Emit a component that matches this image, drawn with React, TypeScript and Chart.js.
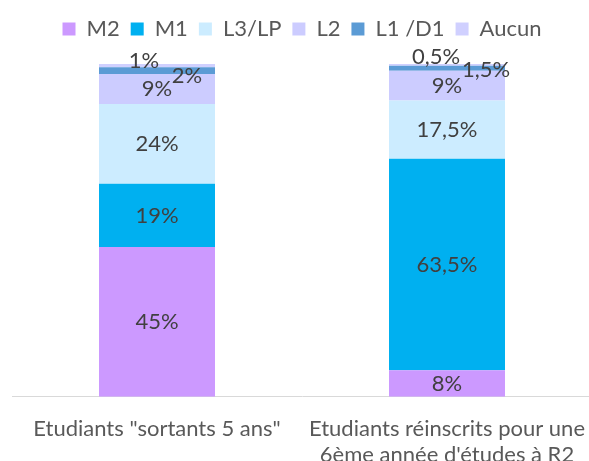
import React, { useEffect, useRef } from "react";
import { Chart, registerables } from "chart.js";

Chart.register(...registerables);

const categories: string[][] = [
  ['Etudiants "sortants 5 ans"'],
  ["Etudiants réinscrits pour une", "6ème année d'études à R2"],
];
const seriesNames = ["M2", "M1", "L3/LP", "L2", "L1 /D1", "Aucun"];
const m2 = [45, 8];
const m1 = [19, 63.5];
const l3lp = [24, 17.5];
const l2 = [9, 9];
const l1d1 = [2, 1.5];
const aucun = [1, 0.5];

const seriesValues = [m2, m1, l3lp, l2, l1d1, aucun];
const colors = ["#CC99FF", "#00B0F0", "#CCECFF", "#CCCCFF", "#5B9BD5", "#D0D0FF"];

// label nudges (px) for thin segments: key = datasetIndex-dataIndex
const labelOffsets: Record<string, [number, number]> = {
  "5-0": [-13, -4.5],
  "4-0": [30, 5],
  "5-1": [-11, -8],
  "4-1": [39, 1.5],
};

const FONT = "Lato";

const labelPlugin = {
  id: "segLabels",
  afterDatasetsDraw(chart: any) {
    const ctx = chart.ctx;
    ctx.save();
    ctx.font = `22px ${FONT}`;
    ctx.fillStyle = "#404040";
    ctx.textAlign = "center";
    ctx.textBaseline = "middle";
    chart.data.datasets.forEach((ds: any, di: number) => {
      const meta = chart.getDatasetMeta(di);
      meta.data.forEach((bar: any, i: number) => {
        const v = ds.data[i];
        const p = bar.getProps(["x", "y", "base"], true);
        const off = labelOffsets[`${di}-${i}`] || [0, 0];
        const txt = String(v).replace(".", ",") + "%";
        ctx.fillText(txt, p.x + off[0], (p.y + p.base) / 2 + off[1]);
      });
    });
    ctx.restore();
  },
};

const legendSpacer = {
  id: "legendSpacer",
  beforeInit(chart: any) {
    const lg = chart.legend;
    if (!lg) return;
    const orig = lg.fit;
    lg.fit = function () {
      orig.call(this);
      this.height += 14;
    };
  },
};

export default function App() {
  const ref = useRef<HTMLCanvasElement | null>(null);
  useEffect(() => {
    if (!ref.current) return;
    const chart = new Chart(ref.current, {
      type: "bar",
      data: {
        labels: categories as any,
        datasets: seriesNames.map((name, i) => ({
          label: name,
          data: seriesValues[i],
          backgroundColor: colors[i],
          borderWidth: 0,
          barPercentage: 0.4,
          categoryPercentage: 1.0,
        })),
      },
      options: {
        animation: false,
        responsive: true,
        maintainAspectRatio: false,
        layout: { padding: { top: 7, left: 12, right: 0, bottom: -26 } },
        plugins: {
          legend: {
            position: "top",
            labels: {
              boxWidth: 13,
              boxHeight: 13,
              padding: 11,
              color: "#595959",
              font: { family: FONT, size: 22 },
            },
          },
          tooltip: { enabled: false },
        },
        scales: {
          x: {
            stacked: true,
            grid: { display: false, drawTicks: false },
            border: { display: true, color: "#D9D9D9", width: 1 },
            ticks: {
              color: "#595959",
              font: { family: FONT, size: 22, lineHeight: 1.14 },
              padding: 20,
              maxRotation: 0,
              autoSkip: false,
            },
            afterFit(scale: any) {
              scale.paddingLeft = 0;
              scale.paddingRight = 0;
            },
          },
          y: { stacked: true, display: false, min: 0, max: 100 },
        },
      },
      plugins: [legendSpacer, labelPlugin],
    });
    return () => chart.destroy();
  }, []);
  return (
    <div style={{ position: "fixed", left: 0, top: 0, width: 592, height: 461, background: "#fff" }}>
      <canvas ref={ref} />
    </div>
  );
}
